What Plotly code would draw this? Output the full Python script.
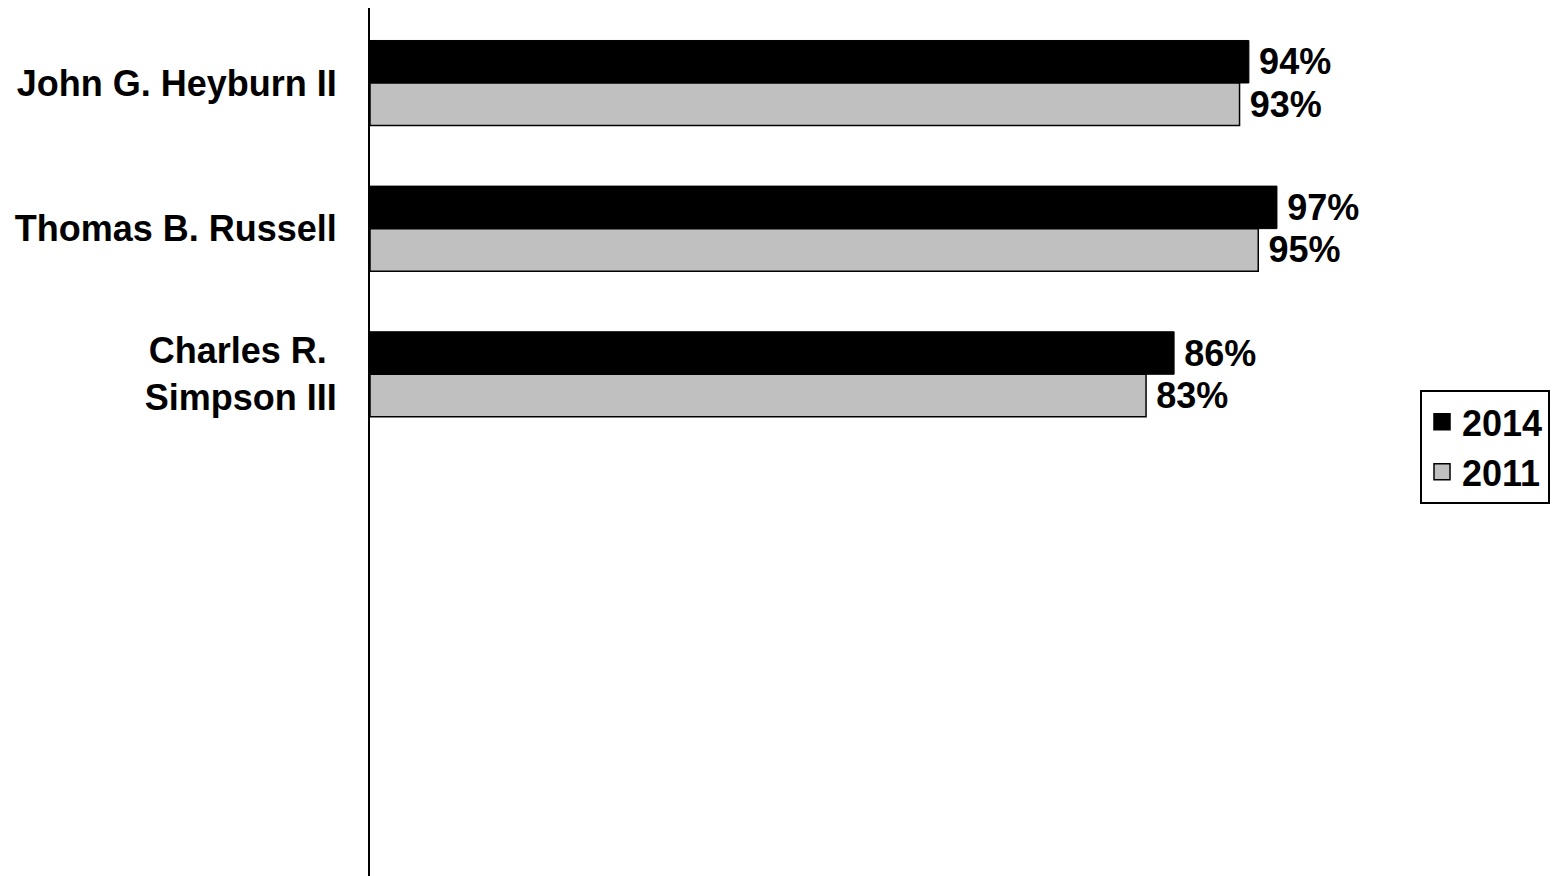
import plotly.graph_objects as go

judges = ["John G. Heyburn II", "Thomas B. Russell", "Charles R. <br>Simpson III"]
positions = [0, 1, 2]
values_2014 = [94, 97, 86]
values_2011 = [93, 95, 83]
series = ["2014", "2011"]
fills = ["#000000", "#C0C0C0"]

FONT = "Liberation Sans, Arial, sans-serif"

fig = go.Figure()
for name, vals, fill, lw in zip(series, [values_2014, values_2011], fills, [1, 1.5]):
    fig.add_trace(go.Bar(
        name=name, y=positions, x=vals, orientation="h",
        marker=dict(color=fill, line=dict(color="#000000", width=lw)),
        texttemplate="\u2009%{x}%", textposition="outside",
        textfont=dict(family=FONT, size=36, color="#000000", weight="bold"),
        cliponaxis=False, showlegend=False,
    ))
# legend entries with larger square swatches
for name, fill in zip(series, fills):
    fig.add_trace(go.Scatter(
        name=name, x=[None], y=[None], mode="markers",
        marker=dict(symbol="square", size=16, color=fill,
                    line=dict(color="#000000", width=1.5)),
        showlegend=True,
    ))

fig.update_layout(
    width=1559, height=876,
    margin=dict(l=362, r=262, t=0, b=0),
    paper_bgcolor="white", plot_bgcolor="white",
    barmode="group", bargap=0.416, bargroupgap=0,
    font=dict(family=FONT, size=36, color="#000000", weight="bold"),
    xaxis=dict(range=[0, 100], visible=False, showgrid=False, zeroline=False),
    yaxis=dict(
        range=[5.5, -0.515], tickvals=positions, ticktext=judges,
        showline=True, linecolor="#000000", linewidth=2,
        showgrid=False, zeroline=False, ticks="", ticklabelstandoff=24,
        tickfont=dict(family=FONT, size=36, color="#000000", weight="bold"),
    ),
    legend=dict(
        x=1.123, y=0.564, xanchor="left", yanchor="top",
        bordercolor="#000000", borderwidth=2, bgcolor="white",
        font=dict(family=FONT, size=36, color="#000000", weight="bold"),
        traceorder="normal", itemwidth=30,
    ),
)

fig.write_html("out.html")
